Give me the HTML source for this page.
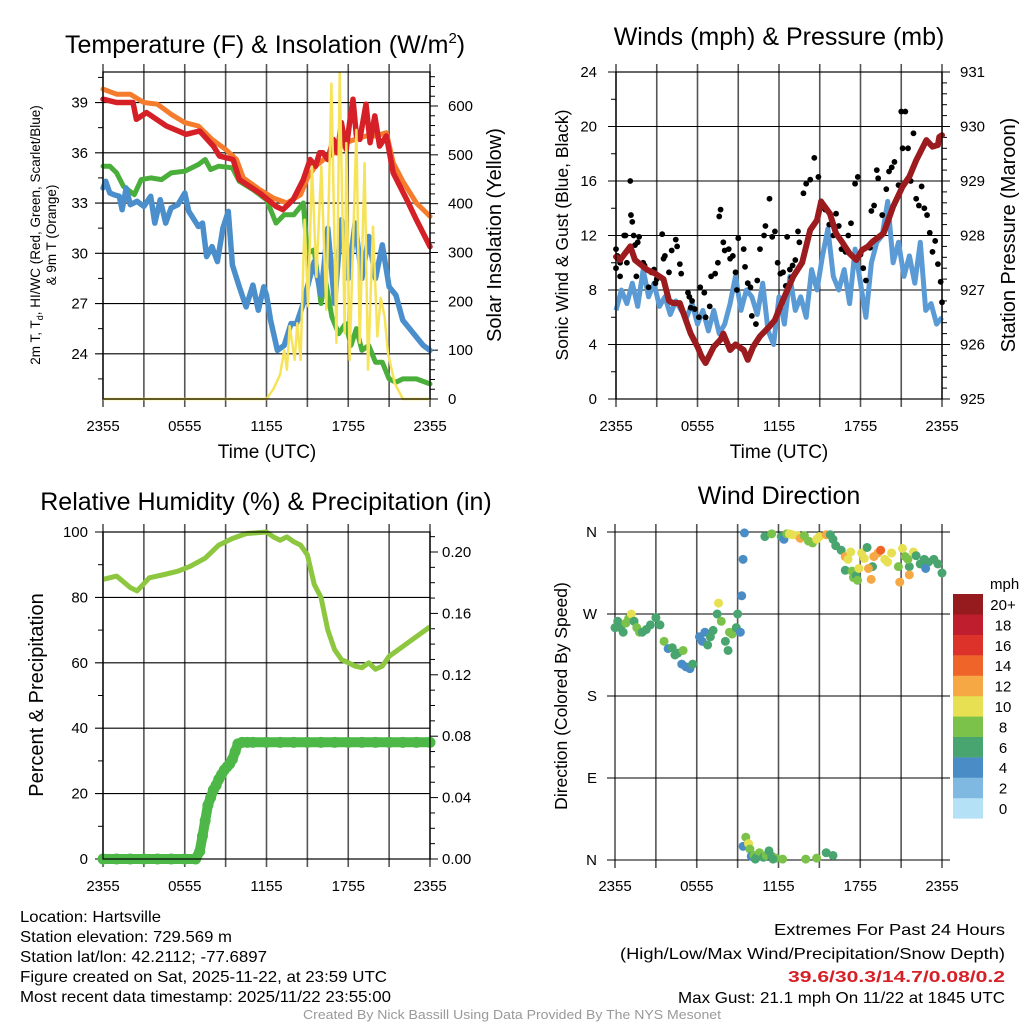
<!DOCTYPE html>
<html><head><meta charset="utf-8"><style>
html,body{margin:0;padding:0;background:#fff;}
svg{display:block;font-family:"Liberation Sans",sans-serif;}
</style></head><body>
<svg id="chart" width="1024" height="1024" viewBox="0 0 1024 1024" xmlns="http://www.w3.org/2000/svg"></svg>
<script>
// ---------- DATA ----------
// Panel 1: temperature
const redT=[0,1,2.2,2.45,3.2,4.65,6.1,7.1,8.1,8.55,9.55,10,11.5,12.7,13.2,13.95,14.7,15.2,15.6,15.9,16.15,16.5,16.9,17.2,17.5,17.85,18.1,18.35,18.6,18.85,19.3,19.6,19.95,20.3,20.8,21.3,22.3,23,24];
const redV=[39.2,39.0,39.0,38.0,38.4,37.6,37.1,37.3,36.4,35.8,35.6,34.4,33.6,32.8,32.6,33.2,34.4,35.6,35.2,36.0,36.0,35.6,36.8,36.0,37.8,36.2,37.8,39.2,37.0,36.8,38.9,36.6,38.2,36.4,37.0,34.8,33.2,32.0,30.4];
const orT=[0,1,2,3,4,5,6,7,8,9,9.8,10.3,11.5,12.5,13.5,14.5,15,15.6,16.2,17,17.8,18.5,19.3,20,20.8,21.3,22,23,24];
const orV=[39.8,39.5,39.5,39.0,38.9,38.3,37.8,37.6,36.8,36.2,35.6,34.5,33.8,33.3,33.0,33.5,34.5,35.2,35.6,36.0,36.6,36.8,37.0,37.0,37.2,35.4,34.3,33.0,32.2];
const grT=[0,0.5,1,1.5,2.3,2.8,3.5,4.3,5,6,7,7.5,7.9,8.5,9.5,10,11,12,12.7,13.3,14,14.7,15,15.5,16,16.3,16.8,17.3,17.8,18.2,18.6,19,19.5,20,20.5,21,21.5,22,23,24];
const grV=[35.2,35.2,34.8,34.0,33.5,34.4,34.5,34.4,34.8,34.9,35.3,35.6,35.0,35.2,35.1,34.3,33.8,33.2,31.8,32.3,32.3,33.0,30.0,30.2,27.0,28.5,26.2,25.2,25.8,24.5,25.5,24.2,24.5,23.5,23.5,22.5,22.3,22.5,22.5,22.2];
const blT=[0,0.2,0.5,0.8,1.2,1.4,1.7,2,2.5,3,3.5,3.8,4.2,4.6,5,5.5,6,6.3,7,7.3,7.6,8,8.4,8.8,9.2,9.5,10,10.5,11,11.4,11.8,12,12.3,12.8,13.3,13.8,14.2,14.7,15,15.5,16,16.5,17,17.5,18,18.5,19,19.5,20,20.5,21,21.5,22,22.5,23,23.5,24];
const blV=[33.9,34.3,33.6,33.5,33.4,32.6,33.9,32.9,33.1,32.8,33.4,31.8,33.2,31.8,32.7,32.9,33.6,32.5,31.6,31.8,29.8,30.4,29.5,31.5,32.5,29.3,28.0,26.8,28.1,26.6,28.0,27.5,26.0,24.2,24.5,25.8,25.8,27.0,28.0,29.5,27.5,31.5,27.0,32.0,28.5,31.8,28.5,31.0,28.5,30.5,28.0,27.5,26.0,25.5,25.0,24.5,24.2];
const solT=[0,12,12.5,13,13.3,13.5,13.7,14.07,14.26,14.5,14.8,15.05,15.34,15.66,16.02,16.39,16.76,17.13,17.37,17.74,17.86,18.1,18.6,18.84,19.2,19.45,19.82,20.13,20.38,20.67,20.92,21.4,22,24];
const solV=[0,0,20,50,100,60,149,80,155,80,367,190,476,250,476,183,646,115,667,135,524,80,551,115,483,60,353,128,207,169,94,33,0,0];
// Panel 2: winds & pressure
const presT=[0,0.3,1.05,1.4,2.3,2.9,3.5,3.9,4.2,4.7,5.5,6.0,6.3,6.6,7.2,7.7,7.9,8.4,8.8,9.4,9.7,10.1,10.6,11.3,11.7,12.3,13.05,13.7,14.3,14.8,15.1,15.75,16.2,16.7,17.2,17.7,18.1,18.55,18.9,19.7,20.4,21.1,21.6,22.1,22.85,23.3,23.7,23.8,24];
const presV=[927.61,927.55,927.8,927.55,927.37,927.3,927.2,926.8,926.76,926.76,926.2,925.96,925.78,925.66,925.96,926.09,926.2,925.9,926.0,925.9,925.72,925.96,926.15,926.33,926.45,926.82,927.25,927.5,928.1,928.28,928.62,928.4,928.04,927.86,927.67,927.55,927.73,927.8,927.89,928.04,928.53,928.9,929.08,929.38,929.75,929.63,929.66,929.81,929.84];
const windV=[6.5,8,7,8.5,6.8,9.5,7.5,8.5,6.8,7.5,6.2,7.2,6.5,6.0,7.0,5.5,6.5,5.0,6.5,4.8,5.5,7.0,9.0,6.5,8.0,7.5,6.2,8.5,5.0,4.0,7.5,5.5,9.0,6.5,7.5,6.0,9.5,8.0,10.5,12.5,9.0,8.0,9.5,7.0,11.0,8.5,6.0,10.0,11.5,12.0,14.5,10.0,11.5,9.0,10.5,8.5,11.5,6.5,7.0,5.5,6.0];
const gustT=[0,0,0.1,0.3,0.3,0.6,0.7,0.8,1.05,1.1,1.2,1.3,1.4,1.5,1.6,1.7,2.0,2.1,2.4,2.6,2.8,2.9,3.0,3.4,3.5,3.6,3.9,4.1,4.4,4.5,4.7,4.8,5.3,5.4,5.5,5.6,5.8,6.1,6.2,6.5,6.6,6.9,7.0,7.3,7.5,7.6,7.7,7.9,8.0,8.3,8.4,8.6,8.8,8.9,9.0,9.4,9.5,9.7,9.9,10.0,10.3,10.4,10.6,10.9,11.0,11.3,11.5,11.7,11.9,12.1,12.3,12.5,12.6,12.8,12.9,13.0,13.2,13.4,13.5,13.8,14.0,14.3,14.6,14.9,15.1,15.4,15.7,16.0,16.2,16.4,16.6,16.9,17.1,17.3,17.6,17.8,18.0,18.2,18.4,18.7,18.8,19.0,19.2,19.3,19.6,19.9,20.1,20.3,20.5,20.8,21.0,21.1,21.3,21.5,21.7,21.9,22.1,22.3,22.5,22.7,22.9,23.1,23.3,23.5,23.7,23.9,24];
const gustV=[11,9.6,10.5,10,9,12,12,10,16,13.5,13,12,11.3,9,11.5,11.9,10,9.8,8.2,9.3,9.5,8.5,8.8,12.1,10.3,10.5,9.3,10.9,11.7,11.2,9.9,9.2,7.8,7.5,6.7,7.2,6.6,6.0,8.2,7.8,6.0,6.8,9.0,9.2,10,13.4,13.9,11.5,10.9,11.0,10.3,10.5,9.3,8.0,11.8,11.0,9.7,8.5,8.2,6.1,5.5,8.7,11.0,12.0,12.7,14.7,11.9,12.3,10.0,9.2,9.3,8.3,11.9,9.5,8.9,9.8,10.2,12.3,11.5,15.1,15.8,16.1,17.7,16.3,14.5,13.9,12.8,12.0,13.6,12.7,11.0,10.8,12.0,12.9,15.8,16.3,10.6,9.6,8.7,11.1,13.8,14.2,16.8,16.2,13.5,15.4,16.7,17.0,17.4,15.7,21.1,18.4,21.1,18.4,16.0,19.5,14.7,14.2,15.6,14.0,13.5,12.2,10.8,11.6,9.9,8.6,7.1,8.4,9.4,8.6,8.0,10.4,7.8,6.9,9.7,8.1];
// Panel 3: RH & precip
const rhT=[0,1,2,2.5,3.4,4.5,5.5,6.4,7.5,8.5,9.5,10.5,12,12.5,13,13.5,14,14.5,15,15.5,16,16.5,17,17.5,18,18.5,19,19.5,20,20.5,21,22,23,24];
const rhV=[85.5,86.5,83,82,86,87,88,89.5,92,96,98,99.5,100,98.5,97.5,98.5,97,96,93,84,80,70,64,61,60,59,58.5,60,58,59,62,65,68,71];
const prT=[0,1,2,3,4,5,6,6.8,7.1,7.3,7.5,7.7,7.9,8.1,8.3,8.5,8.7,8.9,9.1,9.3,9.5,9.7,9.9,10.2,10.6,11,12,13,14,15,16,17,18,19,20,21,22,23,24];
const prV=[0,0,0,0,0,0,0,0,0.005,0.015,0.025,0.035,0.04,0.045,0.048,0.052,0.055,0.058,0.06,0.062,0.065,0.07,0.075,0.076,0.076,0.076,0.076,0.076,0.076,0.076,0.076,0.076,0.076,0.076,0.076,0.076,0.076,0.076,0.076];
// Panel 4: wind direction (hour, degrees, speed mph)
const dirT=[0,0.2,0.4,0.6,0.8,1.0,1.2,1.4,1.6,1.8,2.0,2.3,2.6,3.0,3.3,3.6,3.9,4.2,4.4,4.6,4.9,5.2,5.5,5.7,5.0,6.2,6.4,6.6,6.8,7.0,7.2,7.5,7.6,7.8,8.1,8.3,8.4,8.6,8.9,9.0,9.2,9.3,9.4,9.5,9.4,9.6,9.8,9.9,10.0,10.2,10.4,10.6,10.9,11.1,11.3,11.5,11.8,12.3,14.0,14.8,15.5,16.0,10.3,11.6,11.0,11.5,12.2,12.4,12.6,12.8,13.0,13.4,13.6,13.9,14.2,14.5,14.8,15.0,15.5,15.8,16.0,16.2,16.6,16.9,17.1,17.3,16.9,17.4,17.5,17.7,17.8,18.1,18.3,18.5,18.9,19.0,19.3,19.5,19.8,20.0,20.3,20.8,20.9,21.1,21.3,21.6,21.6,21.9,22.1,22.4,22.7,23.0,23.4,23.7,24.0,22.8,21.5,17.9,18.6,18.8];
const dirD=[255,262,255,250,260,265,270,262,255,250,250,253,258,266,258,240,232,233,225,227,215,212,210,215,230,245,240,250,236,245,252,270,282,262,240,230,250,248,255,270,250,290,330,359,15,25,18,12,4,5,3,8,3,5,10,4,2,1,1,2,8,5,1,1,355,358,355,352,358,358,357,356,353,356,350,348,352,355,357,357,352,345,340,333,330,338,318,317,310,312,307,337,331,343,322,333,337,340,330,327,337,322,305,342,333,322,313,338,334,325,330,327,330,325,315,320,330,320,320,308];
const dirS=[6,6,7,6,8,8,10,6,8,8,7,6,6,6,6,8,4,6,6,6,4,4,4,6,8,4,4,4,6,6,6,6,10,8,6,6,8,8,6,6,4,4,4,4,4,8,10,8,4,8,6,8,6,8,6,6,8,8,8,8,6,6,6,6,6,8,6,4,8,10,10,10,12,8,8,8,10,10,12,6,6,6,6,12,10,10,6,8,8,6,8,10,10,6,6,12,12,14,10,10,10,8,12,10,8,6,12,10,6,6,6,6,6,6,6,4,8,10,12,12];
const legendLabels=["0","2","4","6","8","10","12","14","16","18","20+"];
const legendColors=["#b4e1f6","#7fb9e2","#4a8dc6","#48a56f","#7bc24a","#e6e052","#f5a843","#ef6428","#dc3229","#be1e2d","#951b1e"];
const hourTicks=["2355","0555","1155","1755","2355"];

// ---------- HELPERS ----------
const NS='http://www.w3.org/2000/svg';
const svg=document.getElementById('chart');
function mk(tag,attrs,parent){const e=document.createElementNS(NS,tag);for(const k in attrs)e.setAttribute(k,attrs[k]);(parent||svg).appendChild(e);return e;}
function txt(s,attrs,parent){const e=mk('text',attrs,parent);e.textContent=s;return e;}
function poly(ts,vs,X,Y){return ts.map((t,i)=>X(t).toFixed(1)+','+Y(vs[i]).toFixed(1)).join(' ');}

function frame(g,x0,y0,x1,y1,name){
  for(let i=0;i<=8;i++){
    const x=x0+(x1-x0)*i/8;
    const l=mk('line',{x1:x,y1:y0-8,x2:x,y2:y1+8,stroke:'#555',"stroke-width":1.6},g);
    
    
  }
}
function border(g,x0,y0,x1,y1,name){
  const r=mk('rect',{x:x0,y:y0,width:x1-x0,height:y1-y0,fill:'none',stroke:'#000',"stroke-width":1.2},g);
  
  
}
function hgrid(g,x0,x1,y,name,tick){
  const l=mk('line',{x1:x0-(tick||8),y1:y,x2:x1,y2:y,stroke:'#000',"stroke-width":1.1},g);
  
  
}
function minor(g,x,y,dir,name){
  const l=mk('line',{x1:x,y1:y,x2:x+dir*5,y2:y,stroke:'#000',"stroke-width":1},g);
  
  
}
function xLabels(g,x0,x1,y,name){
  hourTicks.forEach((s,i)=>{
    const t=txt(s,{x:x0+(x1-x0)*i/4,y:y,"font-size":15,"text-anchor":"middle"},g);
    
    
  });
}
function rotLabel(s,x,y,size,g,name,ang){
  const t=txt(s,{x:x,y:y,"font-size":size,"text-anchor":"middle",transform:`rotate(${ang||-90} ${x} ${y})`},g);
  
  
  return t;
}

// ---------- PANEL 1 ----------
{
const g=mk('g',{});  
const x0=103,x1=430,y0=72,y1=399;
const X=h=>x0+h*(x1-x0)/24, Y=T=>y1-(T-21.3)*16.75, YS=W=>y1-W*293/600;
frame(g,x0,y0,x1,y1,'temp');
for(let T=24;T<=39;T+=3){hgrid(g,x0,x1,Y(T),'temp');
  const t=txt(String(T),{x:88,y:Y(T)+5,"font-size":15,"text-anchor":"end"},g);
   }
for(let T=22.5;T<=40.5;T+=3){minor(g,x0,Y(T),-1,'temp');}
for(let W=0;W<=660;W+=20){if(W%100) minor(g,x1,YS(W),1,'insolation'); else {
  const l=mk('line',{x1:x1,y1:YS(W),x2:x1+8,y2:YS(W),stroke:'#000'},g);  
  const t=txt(String(W),{x:448,y:YS(W)+5,"font-size":15},g);  }}
const series=[[orT,orV,'#f47c2c',5,'orange-9m-temp-line'],[grT,grV,'#4aae3b',5,'green-dewpoint-line'],[blT,blV,'#4a8fcb',5.5,'blue-windchill-line'],[redT,redV,'#d62027',5.5,'red-temp-line']];
series.forEach(s=>{const p=mk('polyline',{points:poly(s[0],s[1],X,Y),fill:'none',stroke:s[2],"stroke-width":s[3],"stroke-linejoin":"round","stroke-linecap":"round"},g);
   });
const sp=mk('polyline',{points:poly(solT,solV,X,YS),fill:'none',stroke:'#f7e35a',"stroke-width":2.5,"stroke-linejoin":"round"},g);
 
border(g,x0,y0,x1,y1,'temp');
xLabels(g,x0,x1,431,'temp');
const tt=txt('Temperature (F) & Insolation (W/m',{x:65,y:53,"font-size":25},g);
const sup=mk('tspan',{dy:-10,"font-size":15},tt); sup.textContent='2';
const cl=mk('tspan',{dy:10},tt); cl.textContent=')';
 
const xl=txt('Time (UTC)',{x:267,y:458,"font-size":19,"text-anchor":"middle"},g);
 
const yl=rotLabel('',40,235,13.5,g,'temp-y-axis-title');
yl.textContent='2m T, T';
const sub=mk('tspan',{dy:3,"font-size":9},yl); sub.textContent='d';
const rest=mk('tspan',{dy:-3},yl); rest.textContent=', HI/WC (Red, Green, Scarlet/Blue)';
rotLabel('& 9m T (Orange)',56,235,13.5,g,'temp-y-axis-title-line2');
rotLabel('Solar Insolation (Yellow)',501,235,20,g,'insolation-axis-title');
}

// ---------- PANEL 2 ----------
{
const g=mk('g',{});  
const x0=616,x1=942,y0=72,y1=399;
const X=h=>x0+h*(x1-x0)/24, Y=v=>y1-v*(y1-y0)/24, YP=p=>y1-(p-925)*(y1-y0)/6;
frame(g,x0,y0,x1,y1,'wind');
for(let v=0;v<=24;v+=4){hgrid(g,x0,x1,Y(v),'wind');
  const t=txt(String(v),{x:597,y:Y(v)+5,"font-size":15,"text-anchor":"end"},g);
   }
for(let v=2;v<24;v+=4) minor(g,x0,Y(v),-1,'wind');
for(let p=925;p<=931.001;p+=0.2){const r=Math.round((p-925)*5);
  if(r%5) minor(g,x1,YP(p),1,'pressure'); else {
  const l=mk('line',{x1:x1,y1:YP(p),x2:x1+8,y2:YP(p),stroke:'#000'},g);  
  const t=txt(String(925+r/5),{x:960,y:YP(p)+5,"font-size":15},g);  }}
const wt=windV.map((v,i)=>i*24/(windV.length-1));
const wl=mk('polyline',{points:poly(wt,windV,X,Y),fill:'none',stroke:'#5b9bd5',"stroke-width":5,"stroke-linejoin":"round"},g);
 
gustT.forEach((t,i)=>{const c=mk('circle',{cx:X(t),cy:Y(gustV[i]),r:2.9,fill:'#000'},g);
   });
const pl=mk('polyline',{points:poly(presT,presV,X,YP),fill:'none',stroke:'#9b1b1e',"stroke-width":6,"stroke-linejoin":"round","stroke-linecap":"round"},g);
 
border(g,x0,y0,x1,y1,'wind');
xLabels(g,x0,x1,431,'wind');
const tt=txt('Winds (mph) & Pressure (mb)',{x:779,y:45,"font-size":25,"text-anchor":"middle"},g);
 
const xl=txt('Time (UTC)',{x:779,y:458,"font-size":19,"text-anchor":"middle"},g);
 
rotLabel('Sonic Wind & Gust (Blue, Black)',568,235,17.5,g,'wind-y-axis-title');
rotLabel('Station Pressure (Maroon)',1015,235,20,g,'pressure-axis-title');
}

// ---------- PANEL 3 ----------
{
const g=mk('g',{});  
const x0=103,x1=430,y0=532,y1=859;
const X=h=>x0+h*(x1-x0)/24, Y=r=>y1-r*3.27, YP=p=>y1-p*1535;
frame(g,x0,y0,x1,y1,'rh');
for(let r=0;r<=100;r+=20){hgrid(g,x0,x1,Y(r),'rh');
  const t=txt(String(r),{x:88,y:Y(r)+5,"font-size":15,"text-anchor":"end"},g);
   }
for(let r=10;r<100;r+=20) minor(g,x0,Y(r),-1,'rh');
for(let k=0;k<=21;k++){const p=k/100; const y=YP(p);
  if(k%4) minor(g,x1,y,1,'precip'); else {
  const l=mk('line',{x1:x1,y1:y,x2:x1+8,y2:y,stroke:'#000'},g);  
  const t=txt(p.toFixed(2),{x:442,y:y+5,"font-size":15},g);  }}
const rl=mk('polyline',{points:poly(rhT,rhV,X,Y),fill:'none',stroke:'#8dc63f',"stroke-width":5,"stroke-linejoin":"round"},g);
 
const pl=mk('polyline',{points:poly(prT,prV,X,YP),fill:'none',stroke:'#4db848',"stroke-width":10,"stroke-linejoin":"round","stroke-linecap":"round"},g);
 
prT.forEach((t,i)=>{const c=mk('circle',{cx:X(t),cy:YP(prV[i]),r:5.5,fill:'#4db848'},g);
   });
border(g,x0,y0,x1,y1,'rh');
xLabels(g,x0,x1,891,'rh');
const tt=txt('Relative Humidity (%) & Precipitation (in)',{x:266,y:510,"font-size":25,"text-anchor":"middle"},g);
 
rotLabel('Percent & Precipitation',43,695,20,g,'rh-y-axis-title');
}

// ---------- PANEL 4 ----------
{
const g=mk('g',{});  
const x0=615,x1=942,y0=532,y1=860;
const X=h=>x0+h*(x1-x0)/24, Y=d=>y1-d*(y1-y0)/360;
frame(g,x0,y0,x1,y1,'dir');
['N','E','S','W','N'].forEach((s,i)=>{const y=Y(i*90); hgrid(g,x0,x1+8,y,'dir',8);
  const t=txt(s,{x:597,y:y+5,"font-size":15,"text-anchor":"end"},g);
   });
dirT.forEach((t,i)=>{const idx=Math.min(10,Math.floor(dirS[i]/2));
  const c=mk('circle',{cx:X(t),cy:Y(dirD[i]),r:4.5,fill:legendColors[idx]},g);
   });
xLabels(g,x0,x1,891,'dir');
const tt=txt('Wind Direction',{x:779,y:504,"font-size":25,"text-anchor":"middle"},g);
 
rotLabel('Direction (Colored By Speed)',567,696,17.5,g,'direction-y-axis-title');
const lg=mk('g',{},g);  
const lt=txt('mph',{x:990,y:589,"font-size":15},lg);  
legendColors.forEach((c,i)=>{const y=798-i*20.4;
  const r=mk('rect',{x:953,y:y,width:30,height:20.6,fill:c},lg);  
  const t=txt(legendLabels[i],{x:1003,y:y+16,"font-size":15,"text-anchor":"middle"},lg);  });
}

// ---------- FOOTER TEXT ----------
const infoL=[["Location: Hartsville",922,141],["Station elevation: 729.569 m",942,212],["Station lat/lon: 42.2112; -77.6897",962,247],["Figure created on Sat, 2025-11-22, at 23:59 UTC",982,367],["Most recent data timestamp: 2025/11/22 23:55:00",1002,371]];
infoL.forEach(a=>{const t=txt(a[0],{x:20,y:a[1],"font-size":16,textLength:a[2],lengthAdjust:"spacingAndGlyphs"});
   });
const infoR=[["Extremes For Past 24 Hours",935,231,'#000','normal'],["(High/Low/Max Wind/Precipitation/Snow Depth)",959,385,'#000','normal'],["39.6/30.3/14.7/0.08/0.2",982,217,'#d62027','bold'],["Max Gust: 21.1 mph On 11/22 at 1845 UTC",1003,327,'#000','normal']];
infoR.forEach(a=>{const t=txt(a[0],{x:1005-a[2],y:a[1],"font-size":16,fill:a[3],"font-weight":a[4],textLength:a[2],lengthAdjust:"spacingAndGlyphs"});
   });
const cr=txt('Created By Nick Bassill Using Data Provided By The NYS Mesonet',{x:303,y:1019,"font-size":13,fill:'#999',textLength:418,lengthAdjust:"spacingAndGlyphs"});
 
</script>
</body></html>
